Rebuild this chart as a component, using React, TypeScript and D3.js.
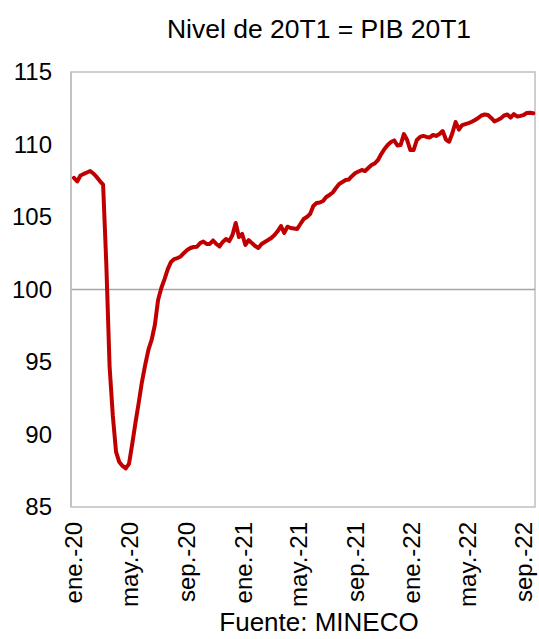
import React from "react";
import * as d3 from "d3";

const title = "Nivel de 20T1 = PIB 20T1";
const source = "Fuente: MINECO";
const startDate = new Date(2020, 0, 1);
const stepDays = 7;
const values = [
  107.7, 107.45, 107.86, 107.97, 108.07, 108.17, 108.0, 107.76, 107.48, 107.24,
  101.7, 94.7, 91.3, 88.8, 88.1, 87.83, 87.66, 87.97, 89.34, 90.8,
  92.17, 93.62, 94.79, 95.83, 96.52, 97.55, 99.28, 100.1, 100.72, 101.41,
  101.9, 102.1, 102.17, 102.28, 102.52, 102.72, 102.86, 102.93, 102.95, 103.2,
  103.31, 103.14, 103.14, 103.38, 103.14, 102.97, 103.28, 103.48, 103.34, 103.76,
  104.59, 103.62, 103.83, 103.07, 103.41, 103.2, 103.0, 102.86, 103.14, 103.28,
  103.41, 103.55, 103.76, 104.03, 104.38, 103.9, 104.33, 104.24, 104.21, 104.17,
  104.52, 104.86, 105.0, 105.21, 105.76, 105.97, 106.0, 106.1, 106.38, 106.52,
  106.69, 107.0, 107.28, 107.41, 107.55, 107.59, 107.83, 108.03, 108.14, 108.24,
  108.17, 108.38, 108.59, 108.7, 108.93, 109.34, 109.69, 109.97, 110.17, 110.28,
  109.93, 109.97, 110.72, 110.31, 109.62, 109.62, 110.31, 110.52, 110.59, 110.52,
  110.48, 110.66, 110.59, 110.72, 110.93, 110.34, 110.19, 110.79, 111.55, 111.03,
  111.34, 111.41, 111.48, 111.57, 111.69, 111.83, 112.0, 112.07, 112.03, 111.83,
  111.59, 111.69, 111.81, 112.0, 112.07, 111.86, 112.1, 111.93, 111.97, 112.03,
  112.17, 112.19, 112.15,
];
const tickDates = [
  new Date(2020, 0, 1), new Date(2020, 4, 1), new Date(2020, 8, 1),
  new Date(2021, 0, 1), new Date(2021, 4, 1), new Date(2021, 8, 1),
  new Date(2022, 0, 1), new Date(2022, 4, 1), new Date(2022, 8, 1),
];
const tickLabels = ["ene.-20", "may.-20", "sep.-20", "ene.-21", "may.-21", "sep.-21", "ene.-22", "may.-22", "sep.-22"];
const yTicks = [85, 90, 95, 100, 105, 110, 115];
const refValue = 100;

const W = 539;
const H = 639;
const boxLeft = 71;
const boxRight = 535;
const boxTop = 72;
const boxBottom = 507;
const font = "'Liberation Sans', Arial, sans-serif";

export default function App() {
  const x = d3.scaleTime().domain([tickDates[0], tickDates[tickDates.length - 1]]).range([74, 524]);
  const y = d3.scaleLinear().domain([85, 115]).range([boxBottom, boxTop]);
  const data = values.map((v, i) => ({ date: d3.timeDay.offset(startDate, i * stepDays), v }));
  const line = d3
    .line<{ date: Date; v: number }>()
    .x((d) => x(d.date))
    .y((d) => y(d.v));

  return (
    <svg
      width={W}
      height={H}
      style={{ position: "absolute", left: 0, top: 0, background: "#fff" }}
      fontFamily={font}
    >
      <rect x={0} y={0} width={W} height={H} fill="#fff" />
      <text x={319} y={38} fontSize={26.5} textAnchor="middle" fill="#000">
        {title}
      </text>
      <rect
        x={boxLeft}
        y={boxTop}
        width={boxRight - boxLeft}
        height={boxBottom - boxTop}
        fill="none"
        stroke="#BFBFBF"
        strokeWidth={1.5}
      />
      <line x1={boxLeft} x2={boxRight} y1={y(refValue)} y2={y(refValue)} stroke="#A6A6A6" strokeWidth={1.5} />
      <line x1={boxLeft} x2={boxLeft} y1={boxTop} y2={boxBottom} stroke="#BFBFBF" strokeWidth={1.5} />
      {yTicks.map((t) => (
        <text key={t} x={52} y={y(t)} dy="0.35em" fontSize={24} textAnchor="end" fill="#000">
          {t}
        </text>
      ))}
      {tickDates.map((d, i) => (
        <text
          key={i}
          transform={`translate(${x(d)},${522}) rotate(-90)`}
          dy="0.35em"
          fontSize={24}
          textAnchor="end"
          fill="#000"
        >
          {tickLabels[i]}
        </text>
      ))}
      <path d={line(data) || ""} fill="none" stroke="#C00000" strokeWidth={4} strokeLinejoin="round" strokeLinecap="round" />
      <text x={319} y={631} fontSize={26} textAnchor="middle" fill="#000">
        {source}
      </text>
    </svg>
  );
}
